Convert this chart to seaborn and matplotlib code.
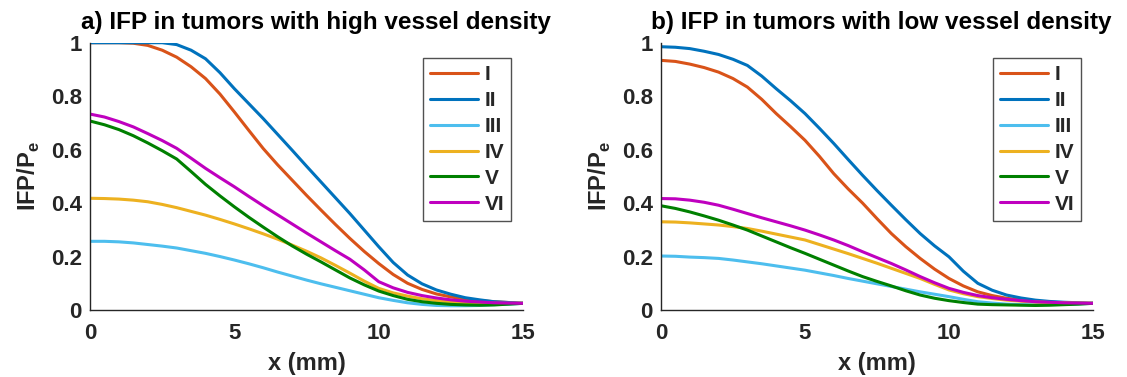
import numpy as np
import pandas as pd
import matplotlib
matplotlib.use("Agg")
import matplotlib.pyplot as plt
import seaborn as sns
from matplotlib.ticker import FuncFormatter

# Distance from tumour centre (mm)
x_mm = [0.0, 0.5, 1.0, 1.5, 2.0, 2.5, 3.0, 3.5, 4.0, 4.5, 5.0, 5.5, 6.0, 6.5, 7.0, 7.5,
        8.0, 8.5, 9.0, 9.5, 10.0, 10.5, 11.0, 11.5, 12.0, 12.5, 13.0, 13.5, 14.0, 14.5, 15.0]

cases = ["I", "II", "III", "IV", "V", "VI"]

# Normalised interstitial fluid pressure, high vessel density
high_I   = [1.000, 1.000, 1.000, 0.998, 0.990, 0.972, 0.946, 0.910, 0.866, 0.808, 0.741, 0.672, 0.604, 0.543, 0.486, 0.429,
            0.374, 0.320, 0.268, 0.219, 0.174, 0.133, 0.100, 0.077, 0.060, 0.049, 0.040, 0.035, 0.031, 0.028, 0.025]
high_II  = [1.000, 1.000, 1.000, 1.000, 1.000, 1.000, 0.993, 0.972, 0.940, 0.888, 0.828, 0.772, 0.716, 0.657, 0.598, 0.538,
            0.479, 0.420, 0.361, 0.299, 0.237, 0.178, 0.131, 0.098, 0.075, 0.059, 0.046, 0.038, 0.031, 0.028, 0.025]
high_III = [0.257, 0.257, 0.255, 0.251, 0.245, 0.239, 0.232, 0.222, 0.212, 0.200, 0.187, 0.173, 0.158, 0.142, 0.127, 0.112,
            0.098, 0.085, 0.072, 0.059, 0.046, 0.036, 0.027, 0.021, 0.017, 0.016, 0.016, 0.017, 0.020, 0.022, 0.025]
high_IV  = [0.418, 0.417, 0.415, 0.411, 0.405, 0.395, 0.383, 0.369, 0.355, 0.339, 0.322, 0.304, 0.285, 0.265, 0.243, 0.220,
            0.195, 0.167, 0.138, 0.108, 0.081, 0.064, 0.052, 0.042, 0.035, 0.030, 0.027, 0.026, 0.025, 0.025, 0.025]
high_V   = [0.707, 0.693, 0.675, 0.652, 0.625, 0.596, 0.565, 0.518, 0.470, 0.427, 0.386, 0.347, 0.310, 0.274, 0.240, 0.209,
            0.180, 0.150, 0.120, 0.094, 0.071, 0.054, 0.040, 0.031, 0.025, 0.021, 0.019, 0.018, 0.019, 0.022, 0.025]
high_VI  = [0.733, 0.722, 0.705, 0.685, 0.660, 0.634, 0.605, 0.568, 0.530, 0.495, 0.461, 0.425, 0.390, 0.356, 0.322, 0.288,
            0.255, 0.222, 0.190, 0.150, 0.106, 0.083, 0.066, 0.054, 0.045, 0.038, 0.033, 0.030, 0.027, 0.026, 0.025]

# Normalised interstitial fluid pressure, low vessel density
low_I   = [0.934, 0.930, 0.920, 0.907, 0.890, 0.866, 0.834, 0.788, 0.735, 0.686, 0.635, 0.575, 0.510, 0.453, 0.400, 0.342,
           0.286, 0.237, 0.193, 0.153, 0.118, 0.090, 0.068, 0.054, 0.044, 0.037, 0.031, 0.029, 0.027, 0.026, 0.025]
low_II  = [0.985, 0.983, 0.978, 0.968, 0.956, 0.938, 0.915, 0.875, 0.828, 0.783, 0.735, 0.680, 0.623, 0.563, 0.504, 0.447,
           0.392, 0.338, 0.286, 0.240, 0.199, 0.145, 0.100, 0.074, 0.056, 0.045, 0.037, 0.032, 0.029, 0.027, 0.025]
low_III = [0.202, 0.201, 0.198, 0.196, 0.193, 0.187, 0.180, 0.173, 0.165, 0.157, 0.149, 0.139, 0.129, 0.118, 0.108, 0.098,
           0.088, 0.078, 0.068, 0.059, 0.050, 0.040, 0.031, 0.026, 0.022, 0.020, 0.019, 0.020, 0.021, 0.023, 0.025]
low_IV  = [0.330, 0.329, 0.326, 0.322, 0.318, 0.312, 0.305, 0.295, 0.284, 0.273, 0.262, 0.245, 0.228, 0.211, 0.193, 0.175,
           0.156, 0.137, 0.118, 0.096, 0.075, 0.061, 0.050, 0.043, 0.037, 0.033, 0.030, 0.028, 0.027, 0.026, 0.025]
low_V   = [0.390, 0.380, 0.367, 0.352, 0.336, 0.318, 0.299, 0.277, 0.255, 0.233, 0.212, 0.190, 0.168, 0.146, 0.125, 0.107,
           0.090, 0.072, 0.056, 0.044, 0.035, 0.028, 0.022, 0.020, 0.019, 0.018, 0.017, 0.018, 0.020, 0.022, 0.025]
low_VI  = [0.417, 0.416, 0.411, 0.403, 0.392, 0.377, 0.361, 0.345, 0.330, 0.315, 0.299, 0.281, 0.262, 0.241, 0.218, 0.196,
           0.174, 0.150, 0.125, 0.102, 0.081, 0.066, 0.054, 0.046, 0.040, 0.035, 0.031, 0.029, 0.027, 0.026, 0.025]

titles = ["a) IFP in tumors with high vessel density",
          "b) IFP in tumors with low vessel density"]

colors = ["#D95319", "#0072BD", "#4DBEEE", "#EDB120", "#008000", "#BF00BF"]


def long_frame(series):
    rows = []
    for name, vals in zip(cases, series):
        for xv, yv in zip(x_mm, vals):
            rows.append({"x": xv, "p": yv, "case": name})
    return pd.DataFrame(rows)


panels = [
    long_frame([high_I, high_II, high_III, high_IV, high_V, high_VI]),
    long_frame([low_I, low_II, low_III, low_IV, low_V, low_VI]),
]

sns.set_theme(style="white")
plt.rcParams["font.family"] = ["Liberation Sans", "DejaVu Sans"]
plt.rcParams["font.weight"] = "bold"
plt.rcParams["axes.labelweight"] = "bold"
plt.rcParams["axes.titleweight"] = "bold"

fig = plt.figure(figsize=(11.27, 3.77), dpi=100)
axes_rects = [
    [0.0799, 0.1777, 0.3842, 0.709],
    [0.5865, 0.1777, 0.3833, 0.709],
]
legend_anchor = [(0.769, 0.943), (0.7685, 0.943)]
title_x = [0.522, 0.509]

tick_color = "#262626"
for k, (rect, df) in enumerate(zip(axes_rects, panels)):
    ax = fig.add_axes(rect)
    sns.lineplot(data=df, x="x", y="p", hue="case", hue_order=cases,
                 palette=colors, linewidth=2.2, ax=ax, legend=True)
    ax.set_xlim(0, 15)
    ax.set_ylim(0, 1)
    ax.set_xticks([0, 5, 10, 15])
    ax.set_yticks([0, 0.2, 0.4, 0.6, 0.8, 1.0])
    ax.yaxis.set_major_formatter(FuncFormatter(lambda v, p: f"{v:g}"))
    for side in ["top", "right"]:
        ax.spines[side].set_visible(False)
    for side in ["left", "bottom"]:
        ax.spines[side].set_color(tick_color)
        ax.spines[side].set_linewidth(1.0)
    ax.tick_params(direction="in", length=4, width=1.0, colors=tick_color,
                   labelsize=16)
    ax.tick_params(axis="x", pad=9)
    ax.tick_params(axis="y", pad=6)
    for lbl in ax.get_xticklabels() + ax.get_yticklabels():
        lbl.set_fontweight("bold")
    ax.set_xlabel("x (mm)", fontsize=17, fontweight="bold", color=tick_color, labelpad=6)
    ax.set_ylabel("IFP/P$_\\mathregular{e}$", fontsize=17, fontweight="bold",
                  color=tick_color, labelpad=6)
    ax.set_title(titles[k], fontsize=17.5, fontweight="bold", color="black",
                 x=title_x[k], pad=10)
    handles, labels = ax.get_legend_handles_labels()
    leg = ax.legend(handles, labels, loc="upper left", bbox_to_anchor=legend_anchor[k],
                    frameon=True, fancybox=False, edgecolor="#262626",
                    prop={"weight": "bold", "size": 15}, handlelength=2.3,
                    handletextpad=0.3, labelspacing=0.33, borderpad=0.35,
                    borderaxespad=0)
    leg.get_frame().set_linewidth(1.0)
    for line in leg.get_lines():
        line.set_linewidth(2.2)

fig.savefig("out.png", dpi=100)
